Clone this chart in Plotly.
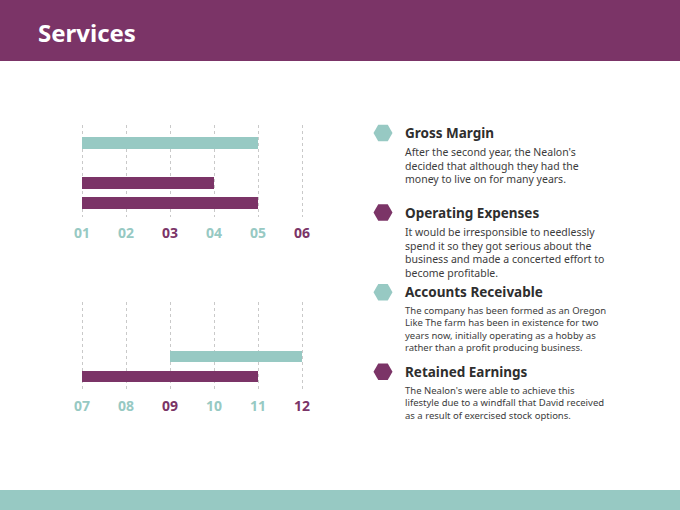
import plotly.graph_objects as go

W, H = 680, 510
PURPLE = '#7B3467'
TEAL = '#97C9C3'
DARK = '#2E2E2E'
BODY = '#3C3C3C'
FONT = 'Noto Sans'

title = 'Services'

# upper chart
top_ticks = [1, 2, 3, 4, 5, 6]
top_labels = ['01', '02', '03', '04', '05', '06']
top_label_colors = [TEAL, TEAL, PURPLE, TEAL, TEAL, PURPLE]
top_rows = [1, 3, 4]
top_start = [1, 1, 1]
top_end = [5, 4, 5]
top_colors = [TEAL, PURPLE, PURPLE]

# lower chart
bottom_ticks = [7, 8, 9, 10, 11, 12]
bottom_labels = ['07', '08', '09', '10', '11', '12']
bottom_label_colors = [TEAL, TEAL, PURPLE, TEAL, TEAL, PURPLE]
bottom_rows = [1, 2]
bottom_start = [9, 7]
bottom_end = [12, 11]
bottom_colors = [TEAL, PURPLE]

# text column
items = ['Gross Margin', 'Operating Expenses', 'Accounts Receivable', 'Retained Earnings']
item_colors = [TEAL, PURPLE, TEAL, PURPLE]
item_texts = [
    "After the second year, the Nealon's<br>decided that although they had the<br>money to live on for many years.",
    "It would be irresponsible to needlessly<br>spend it so they got serious about the<br>business and made a concerted effort to<br>become profitable.",
    "The company has been formed as an Oregon<br>Like The farm has been in existence for two<br>years now, initially operating as a hobby as<br>rather than a profit producing business.",
    "The Nealon's were able to achieve this<br>lifestyle due to a windfall that David received<br>as a result of exercised stock options.",
]
item_sizes = [10.5, 10.5, 9.5, 9.5]


def px_x(p):
    return p / W


def px_y(p):
    return 1 - p / H


def tick_text(labels, colors):
    return ['<b><span style="color:%s">%s</span></b>' % (c, lab) for lab, c in zip(labels, colors)]


fig = go.Figure()

fig.add_trace(go.Bar(y=top_rows, x=[e - s for s, e in zip(top_start, top_end)], base=top_start,
                     orientation='h', marker=dict(color=top_colors, line=dict(width=0)),
                     width=0.58, xaxis='x', yaxis='y', hoverinfo='skip'))
fig.add_trace(go.Bar(y=bottom_rows, x=[e - s for s, e in zip(bottom_start, bottom_end)], base=bottom_start,
                     orientation='h', marker=dict(color=bottom_colors, line=dict(width=0)),
                     width=0.58, xaxis='x2', yaxis='y2', hoverinfo='skip'))

# hexagon bullets
fig.add_trace(go.Scatter(x=[0] * len(items), y=list(range(len(items))), mode='markers',
                         marker=dict(symbol='hexagon2', size=19, color=item_colors, line=dict(width=0)),
                         cliponaxis=False, xaxis='x3', yaxis='y3', hoverinfo='skip'))

grid = dict(showgrid=True, gridcolor='#C9C9C9', griddash='dot', gridwidth=1,
            zeroline=False, showline=False, ticks='', fixedrange=True, automargin=False,
            ticklabelstandoff=6, tickfont=dict(family=FONT, size=14))
hidden = dict(visible=False, automargin=False, fixedrange=True)

# 44 px per tick step; pad the range a little so the end gridlines are drawn
pad = 0.1
x_dom = [px_x(82 - 44 * pad), px_x(302 + 44 * pad)]

step = 79.6
y3_top, y3_bot = 113, 393
y3_range = [3 + (y3_bot - 133 - 3 * step) / step, -(133 - y3_top) / step]

fig.update_layout(
    width=W, height=H, margin=dict(l=0, r=0, t=0, b=0, autoexpand=False),
    paper_bgcolor='white', plot_bgcolor='white', showlegend=False,
    bargap=0,
    xaxis=dict(domain=x_dom, range=[1 - pad, 6 + pad], anchor='y',
               tickvals=top_ticks, ticktext=tick_text(top_labels, top_label_colors), **grid),
    yaxis=dict(domain=[px_y(217), px_y(125)], range=[4.7, 0.1], anchor='x', **hidden),
    xaxis2=dict(domain=x_dom, range=[7 - pad, 12 + pad], anchor='y2',
                tickvals=bottom_ticks, ticktext=tick_text(bottom_labels, bottom_label_colors), **grid),
    yaxis2=dict(domain=[px_y(390), px_y(302)], range=[2.675, -1.725], anchor='x2', **hidden),
    xaxis3=dict(domain=[px_x(383), px_x(405)], range=[0, 1], anchor='y3', **hidden),
    yaxis3=dict(domain=[px_y(y3_bot), px_y(y3_top)], range=y3_range, anchor='x3', **hidden),
)

# header and footer bands
fig.add_shape(type='rect', xref='paper', yref='paper', x0=0, x1=1, y0=px_y(61), y1=1,
              fillcolor=PURPLE, line=dict(width=0), layer='below')
fig.add_shape(type='rect', xref='paper', yref='paper', x0=0, x1=1, y0=0, y1=px_y(490),
              fillcolor=TEAL, line=dict(width=0), layer='below')

fig.add_annotation(text='<b>%s</b>' % title, xref='paper', yref='paper', x=px_x(36), y=px_y(32),
                   xanchor='left', yanchor='middle', showarrow=False,
                   font=dict(family=FONT, size=24, color='white'))

for i, (name, body, fs) in enumerate(zip(items, item_texts, item_sizes)):
    fig.add_annotation(text='<b>%s</b>' % name, xref='x3', yref='y3', x=1, y=i,
                       xanchor='left', yanchor='middle', xshift=-2, showarrow=False,
                       font=dict(family=FONT, size=13.5, color=DARK))
    fig.add_annotation(text=body, xref='x3', yref='y3', x=1, y=i, align='left',
                       xanchor='left', yanchor='top', xshift=-2, yshift=-10, showarrow=False,
                       font=dict(family=FONT, size=fs, color=BODY))

# page has default body margins; remove them so the 680x510 figure fills the window
fig.write_html('out.html', config={'staticPlot': True},
               post_script="document.body.style.margin='0';document.body.style.overflow='hidden';")
